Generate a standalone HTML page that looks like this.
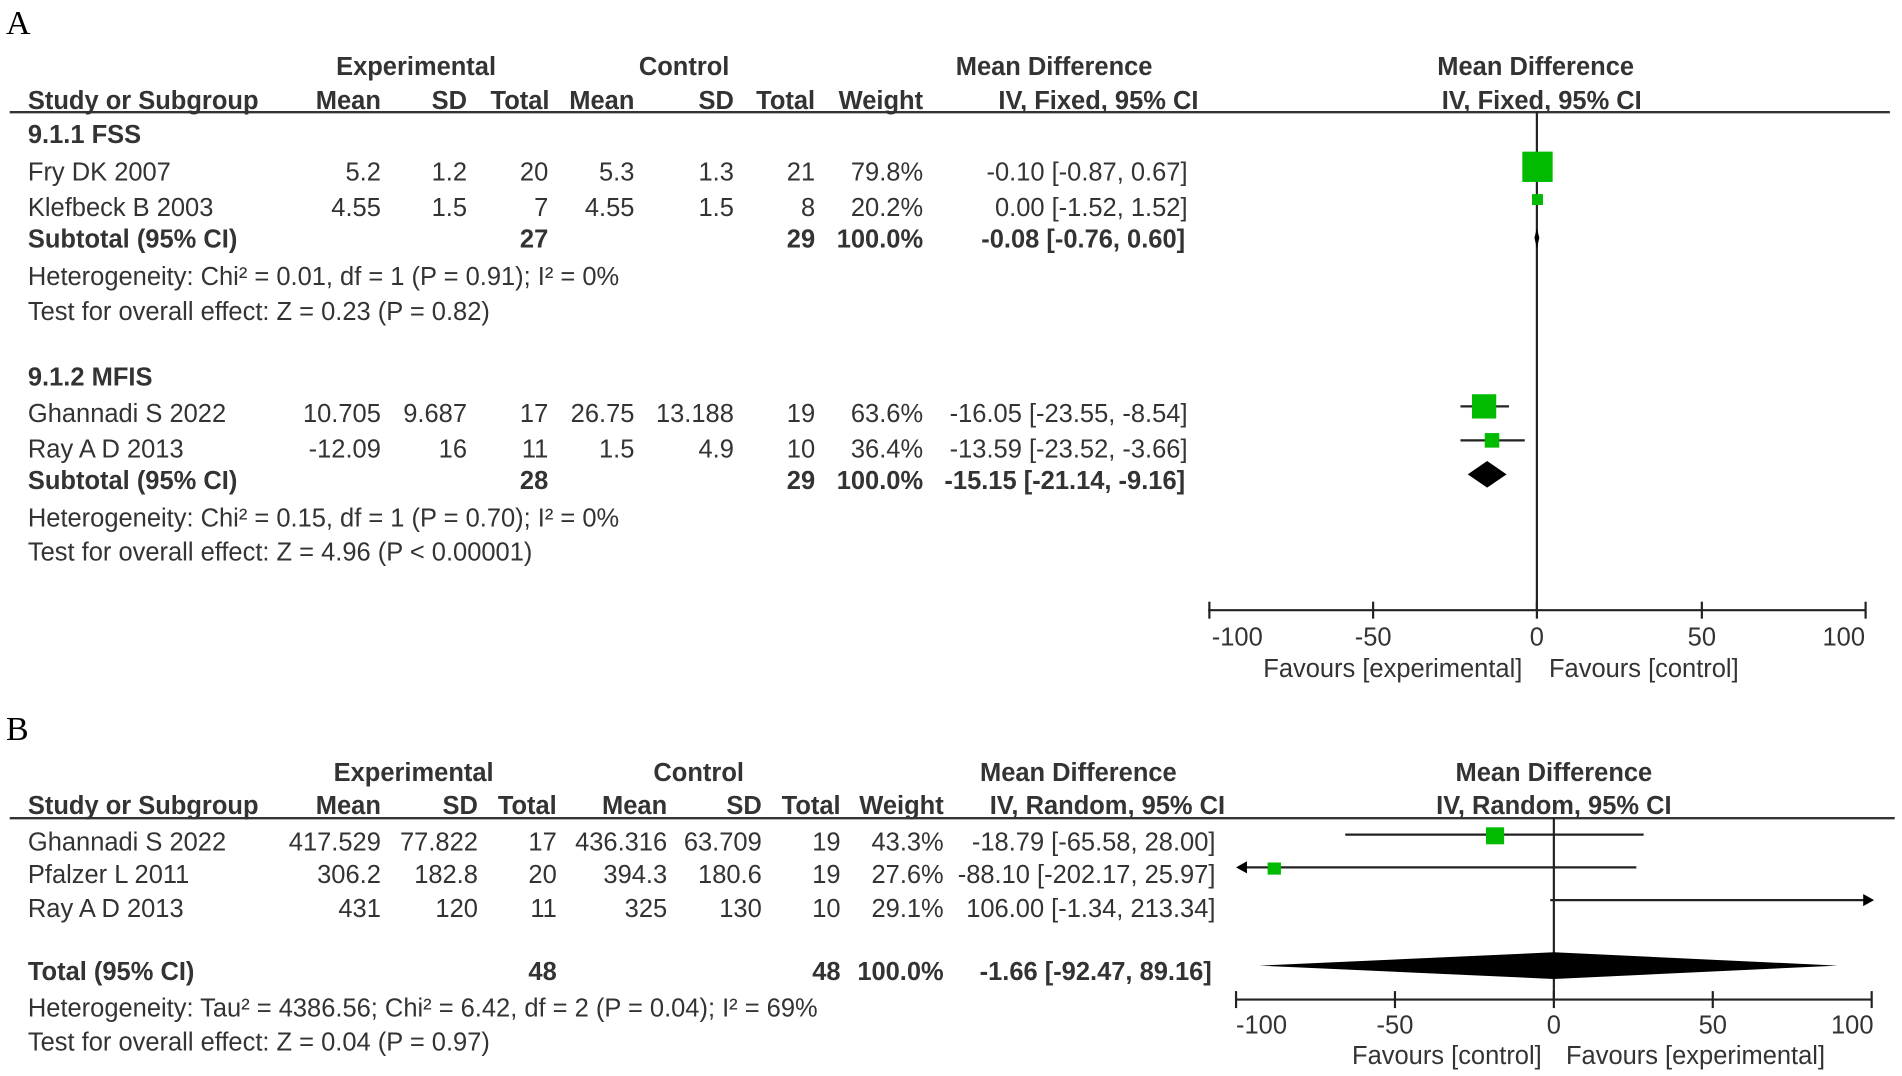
<!DOCTYPE html>
<html><head><meta charset="utf-8"><style>html,body{margin:0;padding:0;background:#fff}svg{display:block}
text{font-family:"Liberation Sans",Arial,sans-serif;font-size:21px;fill:#333}
.b{font-weight:bold}.e{text-anchor:end}.m{text-anchor:middle}
</style></head><body>
<svg width="1902" height="1076" viewBox="0 0 1568 887" preserveAspectRatio="none" xmlns="http://www.w3.org/2000/svg">
<text x="5" y="28" style="font-family:'Liberation Serif',serif;font-size:28px;fill:#000">A</text>
<g class="b">
<text class="m b" x="343" y="62">Experimental</text>
<text class="m b" x="564" y="62">Control</text>
<text class="m b" x="869" y="62">Mean Difference</text>
<text class="m b" x="1266" y="62">Mean Difference</text>
<text class="b" x="23" y="90">Study or Subgroup</text>
<text class="e b" x="314" y="90">Mean</text><text class="e b" x="385" y="90">SD</text><text class="e b" x="453" y="90">Total</text>
<text class="e b" x="523" y="90">Mean</text><text class="e b" x="605" y="90">SD</text><text class="e b" x="672" y="90">Total</text>
<text class="e b" x="761" y="90">Weight</text><text class="e b" x="988" y="90">IV, Fixed, 95% CI</text>
<text class="m b" x="1271" y="90">IV, Fixed, 95% CI</text>
</g>
<line x1="8" y1="92.5" x2="1558" y2="92.5" stroke="#333" stroke-width="2"/>
<text class="b" x="23" y="118">9.1.1 FSS</text>
<text x="23" y="149">Fry DK 2007</text><text class="e" x="314" y="149">5.2</text><text class="e" x="385" y="149">1.2</text><text class="e" x="452" y="149">20</text><text class="e" x="523" y="149">5.3</text><text class="e" x="605" y="149">1.3</text><text class="e" x="672" y="149">21</text><text class="e" x="761" y="149">79.8%</text><text class="e" x="979" y="149">-0.10 [-0.87, 0.67]</text>
<text x="23" y="178">Klefbeck B 2003</text><text class="e" x="314" y="178">4.55</text><text class="e" x="385" y="178">1.5</text><text class="e" x="452" y="178">7</text><text class="e" x="523" y="178">4.55</text><text class="e" x="605" y="178">1.5</text><text class="e" x="672" y="178">8</text><text class="e" x="761" y="178">20.2%</text><text class="e" x="979" y="178">0.00 [-1.52, 1.52]</text>
<text class="b" x="23" y="204">Subtotal (95% CI)</text><text class="e b" x="452" y="204">27</text><text class="e b" x="672" y="204">29</text><text class="e b" x="761" y="204">100.0%</text><text class="e b" x="977" y="204">-0.08 [-0.76, 0.60]</text>
<text x="23" y="235">Heterogeneity: Chi² = 0.01, df = 1 (P = 0.91); I² = 0%</text>
<text x="23" y="264">Test for overall effect: Z = 0.23 (P = 0.82)</text>
<text class="b" x="23" y="318">9.1.2 MFIS</text>
<text x="23" y="348">Ghannadi S 2022</text><text class="e" x="314" y="348">10.705</text><text class="e" x="385" y="348">9.687</text><text class="e" x="452" y="348">17</text><text class="e" x="523" y="348">26.75</text><text class="e" x="605" y="348">13.188</text><text class="e" x="672" y="348">19</text><text class="e" x="761" y="348">63.6%</text><text class="e" x="979" y="348">-16.05 [-23.55, -8.54]</text>
<text x="23" y="377">Ray A D 2013</text><text class="e" x="314" y="377">-12.09</text><text class="e" x="385" y="377">16</text><text class="e" x="452" y="377">11</text><text class="e" x="523" y="377">1.5</text><text class="e" x="605" y="377">4.9</text><text class="e" x="672" y="377">10</text><text class="e" x="761" y="377">36.4%</text><text class="e" x="979" y="377">-13.59 [-23.52, -3.66]</text>
<text class="b" x="23" y="403">Subtotal (95% CI)</text><text class="e b" x="452" y="403">28</text><text class="e b" x="672" y="403">29</text><text class="e b" x="761" y="403">100.0%</text><text class="e b" x="977" y="403">-15.15 [-21.14, -9.16]</text>
<text x="23" y="434">Heterogeneity: Chi² = 0.15, df = 1 (P = 0.70); I² = 0%</text>
<text x="23" y="462">Test for overall effect: Z = 4.96 (P &lt; 0.00001)</text>
<g stroke="#222" stroke-width="1.8">
<line x1="1267" y1="92" x2="1267" y2="503"/>
<line x1="996" y1="503" x2="1538" y2="503"/>
<line x1="997" y1="496" x2="997" y2="510"/><line x1="1132" y1="496" x2="1132" y2="510"/><line x1="1267" y1="496" x2="1267" y2="510"/><line x1="1403" y1="496" x2="1403" y2="510"/><line x1="1538" y1="496" x2="1538" y2="510"/>
<line x1="1204" y1="335" x2="1244" y2="335"/>
<line x1="1204" y1="363" x2="1257" y2="363"/>
</g>
<rect x="1255" y="125" width="25" height="25" fill="#00bb00"/>
<rect x="1263" y="160" width="9" height="9" fill="#00bb00"/>
<polygon points="1267,188 1269,196 1267,205 1265,196" fill="#000"/>
<rect x="1213.5" y="325" width="20" height="20" fill="#00bb00"/>
<rect x="1224" y="357" width="12" height="12" fill="#00bb00"/>
<polygon points="1210,391 1226,380 1242,391 1226,402" fill="#000"/>
<text class="m" x="1020" y="532">-100</text><text class="m" x="1132" y="532">-50</text><text class="m" x="1267" y="532">0</text><text class="m" x="1403" y="532">50</text><text class="m" x="1520" y="532">100</text>
<text class="e" x="1255" y="558">Favours [experimental]</text><text x="1277" y="558">Favours [control]</text>

<text x="5" y="610" style="font-family:'Liberation Serif',serif;font-size:28px;fill:#000">B</text>
<text class="m b" x="341" y="644">Experimental</text>
<text class="m b" x="576" y="644">Control</text>
<text class="m b" x="889" y="644">Mean Difference</text>
<text class="m b" x="1281" y="644">Mean Difference</text>
<text class="b" x="23" y="671">Study or Subgroup</text>
<text class="e b" x="314" y="671">Mean</text><text class="e b" x="394" y="671">SD</text><text class="e b" x="459" y="671">Total</text>
<text class="e b" x="550" y="671">Mean</text><text class="e b" x="628" y="671">SD</text><text class="e b" x="693" y="671">Total</text>
<text class="e b" x="778" y="671">Weight</text><text class="e b" x="1010" y="671">IV, Random, 95% CI</text>
<text class="m b" x="1281" y="671">IV, Random, 95% CI</text>
<line x1="8" y1="674.5" x2="1562" y2="674.5" stroke="#333" stroke-width="2"/>
<text x="23" y="701">Ghannadi S 2022</text><text class="e" x="314" y="701">417.529</text><text class="e" x="394" y="701">77.822</text><text class="e" x="459" y="701">17</text><text class="e" x="550" y="701">436.316</text><text class="e" x="628" y="701">63.709</text><text class="e" x="693" y="701">19</text><text class="e" x="778" y="701">43.3%</text><text class="e" x="1002" y="701">-18.79 [-65.58, 28.00]</text>
<text x="23" y="728">Pfalzer L 2011</text><text class="e" x="314" y="728">306.2</text><text class="e" x="394" y="728">182.8</text><text class="e" x="459" y="728">20</text><text class="e" x="550" y="728">394.3</text><text class="e" x="628" y="728">180.6</text><text class="e" x="693" y="728">19</text><text class="e" x="778" y="728">27.6%</text><text class="e" x="1002" y="728">-88.10 [-202.17, 25.97]</text>
<text x="23" y="756">Ray A D 2013</text><text class="e" x="314" y="756">431</text><text class="e" x="394" y="756">120</text><text class="e" x="459" y="756">11</text><text class="e" x="550" y="756">325</text><text class="e" x="628" y="756">130</text><text class="e" x="693" y="756">10</text><text class="e" x="778" y="756">29.1%</text><text class="e" x="1002" y="756">106.00 [-1.34, 213.34]</text>
<text class="b" x="23" y="808">Total (95% CI)</text><text class="e b" x="459" y="808">48</text><text class="e b" x="693" y="808">48</text><text class="e b" x="778" y="808">100.0%</text><text class="e b" x="999" y="808">-1.66 [-92.47, 89.16]</text>
<text x="23" y="838">Heterogeneity: Tau² = 4386.56; Chi² = 6.42, df = 2 (P = 0.04); I² = 69%</text>
<text x="23" y="866">Test for overall effect: Z = 0.04 (P = 0.97)</text>
<g stroke="#222" stroke-width="1.8">
<line x1="1281" y1="674" x2="1281" y2="824"/>
<line x1="1019" y1="824" x2="1543" y2="824"/>
<line x1="1019" y1="817" x2="1019" y2="831"/><line x1="1150" y1="817" x2="1150" y2="831"/><line x1="1281" y1="817" x2="1281" y2="831"/><line x1="1412" y1="817" x2="1412" y2="831"/><line x1="1543" y1="817" x2="1543" y2="831"/>
<line x1="1109" y1="688" x2="1355" y2="688"/>
<line x1="1026" y1="715" x2="1349" y2="715"/>
<line x1="1278" y1="742" x2="1537" y2="742"/>
</g>
<polygon points="1019,715 1028,710 1028,720" fill="#000"/>
<polygon points="1545,742 1536,737 1536,747" fill="#000"/>
<rect x="1225" y="682" width="15" height="14" fill="#00bb00"/>
<rect x="1045" y="711" width="11" height="10" fill="#00bb00"/>
<polygon points="1038,796 1281,785 1515,796 1281,807" fill="#000"/>
<text class="m" x="1040" y="852">-100</text><text class="m" x="1150" y="852">-50</text><text class="m" x="1281" y="852">0</text><text class="m" x="1412" y="852">50</text><text class="m" x="1527" y="852">100</text>
<text class="e" x="1271" y="877">Favours [control]</text><text x="1291" y="877">Favours [experimental]</text>
</svg>
</body></html>
